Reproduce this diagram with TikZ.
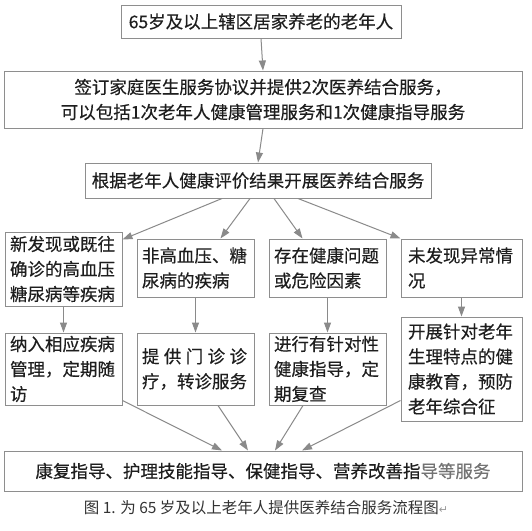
\documentclass[tikz,border=0pt]{standalone}
\usepackage{fontspec}
\setmainfont{Noto Sans CJK SC}[FakeBold=0.35]
\newfontfamily\capfont{Noto Sans CJK SC}
\newfontfamily\dejavu{DejaVu Sans}
\usetikzlibrary{arrows.meta,calc}
\definecolor{boxgray}{HTML}{8E8E8E}
\definecolor{arrgray}{HTML}{8A8A8A}
\definecolor{txt}{HTML}{1E1E1E}
\definecolor{capgray}{HTML}{333333}
\begin{document}
\begin{tikzpicture}[x=1pt,y=-1pt,
  box/.style={draw=boxgray,line width=1pt,rectangle,inner sep=0pt,text=txt,
    font=\fontsize{17.5}{25}\selectfont},
  cell/.style={box,text width=107pt,align=left},
  arr/.style={draw=arrgray,line width=1pt,-{Triangle[length=10pt,width=7pt]}}]
\useasboundingbox[fill=white] (0,0) rectangle (532,530);

\node[box,minimum width=280pt,minimum height=33pt] (b1) at (261,21.5) {65岁及以上辖区居家养老的老年人};
\node[box,minimum width=518pt,minimum height=57pt,align=center] (b2) at (263,99.5)
  {签订家庭医生服务协议并提供2次医养结合服务，\\可以包括1次老年人健康管理服务和1次健康指导服务};
\node[box,minimum width=346pt,minimum height=35pt] (b3) at (258,180.5) {根据老年人健康评价结果开展医养结合服务};

\node[cell,minimum width=117pt,minimum height=74pt] (a) at (63.5,269) {新发现或既往\\确诊的高血压\\糖尿病等疾病};
\node[cell,minimum width=117pt,minimum height=58pt] (b) at (195.5,268) {非高血压、糖\\尿病的疾病};
\node[cell,minimum width=117pt,minimum height=58pt] (c) at (327.5,268) {存在健康问题\\或危险因素};
\node[cell,minimum width=121pt,minimum height=58pt] (d) at (461.5,268) {未发现异常情\\况};

\node[cell,minimum width=117pt,minimum height=72pt] (e) at (63.5,369) {纳入相应疾病\\管理，定期随\\访};
\node[cell,minimum width=117pt,minimum height=72pt] (f) at (195.5,369) {\hbox to 105pt{提\hfil 供\hfil 门\hfil 诊\hfil 诊}\\疗，转诊服务};
\node[cell,minimum width=117pt,minimum height=72pt] (g) at (327.5,369) {进行有针对性\\健康指导，定\\期复查};
\node[cell,minimum width=121pt,minimum height=104pt] (h) at (461.5,369) {开展针对老年\\生理特点的健\\康教育，预防\\老年综合征};

\node[box,minimum width=518pt,minimum height=40pt] (fin) at (263,471)
  {康复指导、护理技能指导、保健指导、营养改善指\textcolor{black!55}{导等服务}};

\node[font=\capfont\fontsize{15.5}{18}\selectfont,text=capgray,inner sep=0pt] (cap) at (266,508)
  {图 1. 为 65 岁及以上老年人提供医养结合服务流程图{\dejavu\fontsize{11}{12}\selectfont\textcolor{black!40}{↵}}};

\draw[arr] (b1.south) -- (b2.north);
\draw[arr] (b2.south) -- (b3.north);

\draw[arr] ($(b3.south)+(-36,0)$) -- ($(a.north east)+(0,8)$);
\draw[arr] ($(b3.south)+(-8,0)$) -- ($(b.north)+(25,0)$);
\draw[arr] ($(b3.south)+(16,0)$) -- ($(c.north)+(-25,0)$);
\draw[arr] ($(b3.south)+(40,0)$) -- (d.north west);

\draw[arr] (a.south) -- (e.north);
\draw[arr] (b.south) -- (f.north);
\draw[arr] (c.south) -- (g.north);
\draw[arr] (d.south) -- (h.north);

\draw[arr] ($(e.south east)+(0,-5)$) -- ($(fin.north)+(-41,0)$);
\draw[arr] ($(f.south)+(22.5,0)$) -- ($(fin.north)+(-15,0)$);
\draw[arr] ($(g.south)+(-24.5,0)$) -- ($(fin.north)+(12,0)$);
\draw[arr] ($(h.south west)+(0,-21)$) -- ($(fin.north)+(39,0)$);
\end{tikzpicture}
\end{document}
